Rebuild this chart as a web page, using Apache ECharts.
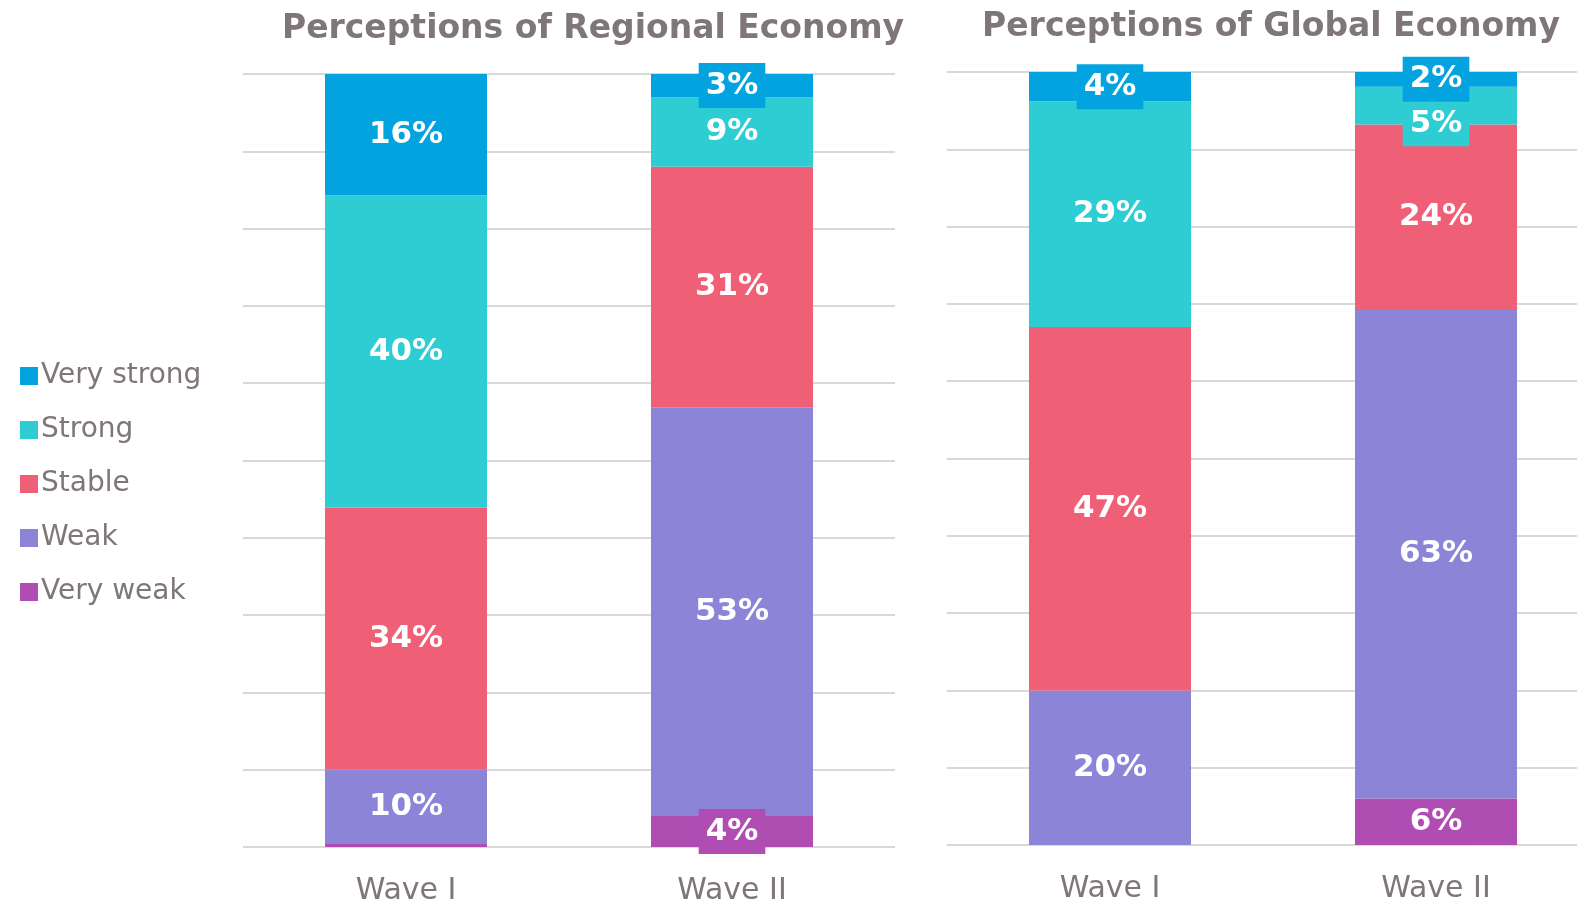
<!DOCTYPE html>
<html>
<head>
<meta charset="utf-8">
<script src="https://cdn.jsdelivr.net/npm/echarts@6/dist/echarts.min.js"></script>
<style>
html, body { margin: 0; padding: 0; background: #fff; }
#chart { width: 1577px; height: 903px; }
</style>
</head>
<body>
<div id="chart"></div>
<script>
var waves = ['Wave I', 'Wave II'];
var levels = ['Very weak', 'Weak', 'Stable', 'Strong', 'Very strong'];
var colors = ['#AF4DB3', '#8B84D7', '#EF6077', '#2ECCD3', '#03A3E0'];

// percent values per level, [Wave I, Wave II]
var regionalVeryWeak = [0.4, 4.0];
var regionalWeak = [9.6, 52.9];
var regionalStable = [33.9, 31.1];
var regionalStrong = [40.4, 9.0];
var regionalVeryStrong = [15.7, 3.0];

var globalVeryWeak = [0, 6.0];
var globalWeak = [20.0, 63.2];
var globalStable = [47.0, 24.0];
var globalStrong = [29.2, 4.9];
var globalVeryStrong = [3.8, 2.0];

var regional = [regionalVeryWeak, regionalWeak, regionalStable, regionalStrong, regionalVeryStrong];
var global = [globalVeryWeak, globalWeak, globalStable, globalStrong, globalVeryStrong];

var font = 'DejaVu Sans';
var grey = '#7F7777';

function makeSeries(values, idx, stack) {
    var series = [];
    values.forEach(function(vals, i) {
        series.push({
            name: levels[i],
            type: 'bar',
            stack: stack,
            xAxisIndex: idx,
            yAxisIndex: idx,
            barWidth: 162,
            itemStyle: { color: colors[i] },
            label: {
                show: true,
                position: 'inside',
                color: '#fff',
                fontFamily: font,
                fontWeight: 'bold',
                fontSize: 31,
                backgroundColor: colors[i],
                padding: [8, 7, 6, 7],
                formatter: function(p) { return Math.round(p.value) + '%'; }
            },
            data: vals.map(function(v, j) {
                if (v < 1) return { value: v, label: { show: false } };
                // small segment squeezed under the label above it: push its label down
                if (stack === 'g' && i === 3 && j === 1) return { value: v, label: { offset: [0, 18] } };
                return v;
            })
        });
    });
    return series;
}

function yAxis(idx) {
    return {
        type: 'value', gridIndex: idx, min: 0, max: 100, interval: 10,
        axisLabel: { show: false }, axisLine: { show: false }, axisTick: { show: false },
        splitLine: { lineStyle: { color: '#D9D9D9', width: 2 } }
    };
}

function xAxis(idx) {
    return {
        type: 'category', gridIndex: idx, data: waves,
        axisLine: { show: false }, axisTick: { show: false },
        axisLabel: { color: grey, fontFamily: font, fontSize: 30, margin: 29 }
    };
}

var chart = echarts.init(document.getElementById('chart'));
chart.setOption({
    animation: false,
    title: [
        { text: 'Perceptions of Regional Economy', left: 588, top: 8, textAlign: 'center',
          textStyle: { color: grey, fontFamily: font, fontWeight: 'bold', fontSize: 33 } },
        { text: 'Perceptions of Global Economy', left: 1266, top: 6, textAlign: 'center',
          textStyle: { color: grey, fontFamily: font, fontWeight: 'bold', fontSize: 33 } }
    ],
    legend: {
        orient: 'vertical', left: 15, top: 357,
        data: levels.slice().reverse(),
        icon: 'rect', itemWidth: 18, itemHeight: 18, itemGap: 26,
        textStyle: { color: grey, fontFamily: font, fontSize: 28, padding: [0, 0, 0, -2] }
    },
    grid: [
        { left: 243, width: 652, top: 74, bottom: 56, outerBoundsMode: 'none' },
        { left: 947, width: 652, top: 72, bottom: 58, outerBoundsMode: 'none' }
    ],
    xAxis: [xAxis(0), xAxis(1)],
    yAxis: [yAxis(0), yAxis(1)],
    series: makeSeries(regional, 0, 'r').concat(makeSeries(global, 1, 'g'))
});
</script>
</body>
</html>
